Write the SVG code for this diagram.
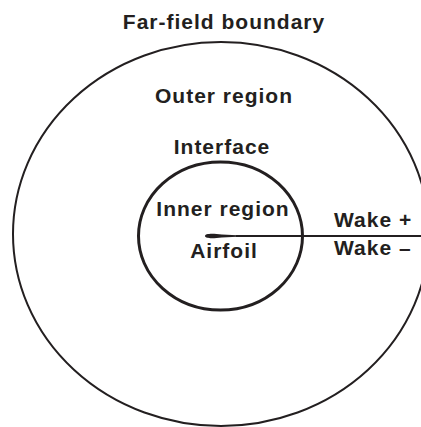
<svg xmlns="http://www.w3.org/2000/svg" width="421" height="427" viewBox="0 0 421 427">
<style>
.lbl{font-family:"Liberation Sans",Arial,sans-serif;font-weight:bold;font-size:21px;fill:#231f20;letter-spacing:1px}
.c{text-anchor:middle}
.bd{fill:none;stroke:#231f20}
</style>
<rect width="421" height="427" fill="#fff"/>
<g id="far-field">
<ellipse class="bd" cx="221" cy="234" rx="208" ry="192" stroke-width="2"/>
<text class="lbl c" x="224" y="29">Far-field boundary</text>
</g>
<g id="outer-region">
<text class="lbl c" x="224" y="103">Outer region</text>
</g>
<g id="interface">
<ellipse class="bd" cx="220.5" cy="236" rx="82" ry="74" stroke-width="3"/>
<text class="lbl c" x="222" y="154">Interface</text>
</g>
<g id="inner-region">
<text class="lbl c" x="223" y="216" letter-spacing="0.7">Inner region</text>
</g>
<g id="airfoil">
<path d="M205,236 C205,233.6 212,233.2 222,234.6 L237,235.2 L237,236.8 L222,237.4 C212,238.8 205,238.4 205,236 Z" fill="#231f20"/>
<text class="lbl c" x="224" y="258">Airfoil</text>
</g>
<g id="connectors">
<line x1="236" y1="236" x2="421" y2="236" stroke="#231f20" stroke-width="2"/>
</g>
<g id="wake-plus">
<text class="lbl" x="334" y="227">Wake +</text>
</g>
<g id="wake-minus">
<text class="lbl" x="334" y="255">Wake –</text>
</g>
</svg>
